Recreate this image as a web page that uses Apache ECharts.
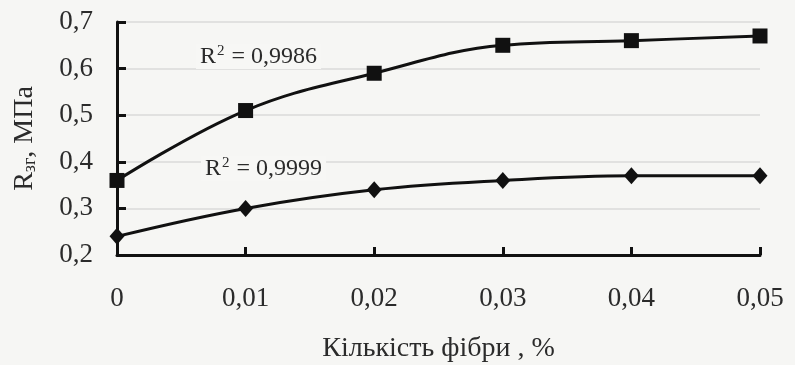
<!DOCTYPE html>
<html>
<head>
<meta charset="utf-8">
<script src="https://cdn.jsdelivr.net/npm/echarts@6/dist/echarts.min.js"></script>
<style>
  html, body { margin: 0; padding: 0; background: #f6f6f4; }
  #chart { width: 795px; height: 365px; }
</style>
</head>
<body>
<div id="chart"></div>
<script>
// Fibre content, %
const fibre = [0, 0.01, 0.02, 0.03, 0.04, 0.05];
// Strength values, MPa
const upperSeries = [0.36, 0.51, 0.59, 0.65, 0.66, 0.67];
const lowerSeries = [0.24, 0.30, 0.34, 0.36, 0.37, 0.37];
// Trend fit quality
const upperFit = '0,9986';
const lowerFit = '0,9999';

const FONT = '"Liberation Serif", "DejaVu Serif", serif';
const INK = '#2b2b2b';
const chart = echarts.init(document.getElementById('chart'), null, { renderer: 'canvas' });

const pairs = (ys) => fibre.map((x, i) => [x, ys[i]]);

// R² annotation with a raised "2"
const fitText = (value) => ({
  text: '{m|R}{sup|2}{m| = ' + value + '}',
  rich: {
    m: { fontFamily: FONT, fontSize: 24, fill: INK, color: INK },
    sup: { fontFamily: FONT, fontSize: 15, fill: INK, color: INK, verticalAlign: 'top', padding: [0, 1, 10, 1] }
  },
  backgroundColor: '#f7f7f5',
  padding: [0, 4]
});

chart.setOption({
  backgroundColor: '#f6f6f4',
  animation: false,
  grid: { left: 117, right: 35, top: 22, bottom: 110, containLabel: false, outerBoundsMode: 'none' },
  xAxis: {
    type: 'value', min: 0, max: 0.05, interval: 0.01,
    name: 'Кількість фібри , %',
    nameLocation: 'middle', nameGap: 80,
    nameTextStyle: { fontFamily: FONT, fontSize: 28, color: INK },
    axisLine: { lineStyle: { color: '#111', width: 3 } },
    axisTick: { inside: true, length: 8, lineStyle: { color: '#111', width: 3 } },
    axisLabel: {
      margin: 30, fontFamily: FONT, fontSize: 27, color: INK,
      formatter: v => v === 0 ? '0' : v.toFixed(2).replace('.', ',')
    },
    splitLine: { show: false }
  },
  yAxis: {
    type: 'value', min: 0.2, max: 0.7, interval: 0.1,
    name: '{m|R}{s|зг}{m|, МПа}',
    nameLocation: 'middle', nameGap: 78, nameRotate: 90,
    nameTextStyle: {
      rich: {
        m: { fontFamily: FONT, fontSize: 28, color: INK },
        s: { fontFamily: FONT, fontSize: 18, color: INK, verticalAlign: 'bottom', padding: [10, 0, 0, 0] }
      }
    },
    axisLine: { show: true, lineStyle: { color: '#111', width: 3 } },
    axisTick: { show: true, inside: true, length: 9, lineStyle: { color: '#111', width: 3 } },
    axisLabel: {
      margin: 24, fontFamily: FONT, fontSize: 27, color: INK,
      formatter: v => v.toFixed(1).replace('.', ',')
    },
    splitLine: { show: true, lineStyle: { color: '#dadada', width: 1.5 } }
  },
  series: [
    {
      type: 'line', data: pairs(upperSeries), smooth: 0.4,
      symbol: 'rect', symbolSize: 15,
      lineStyle: { color: '#111', width: 3 },
      itemStyle: { color: '#111' }
    },
    {
      type: 'line', data: pairs(lowerSeries), smooth: 0.4,
      symbol: 'diamond', symbolSize: [15, 17],
      lineStyle: { color: '#111', width: 3 },
      itemStyle: { color: '#111' }
    }
  ],
  graphic: [
    { type: 'text', z: 20, left: 196, top: 44, style: fitText(upperFit) },
    { type: 'text', z: 20, left: 201, top: 156, style: fitText(lowerFit) }
  ]
});
</script>
</body>
</html>
